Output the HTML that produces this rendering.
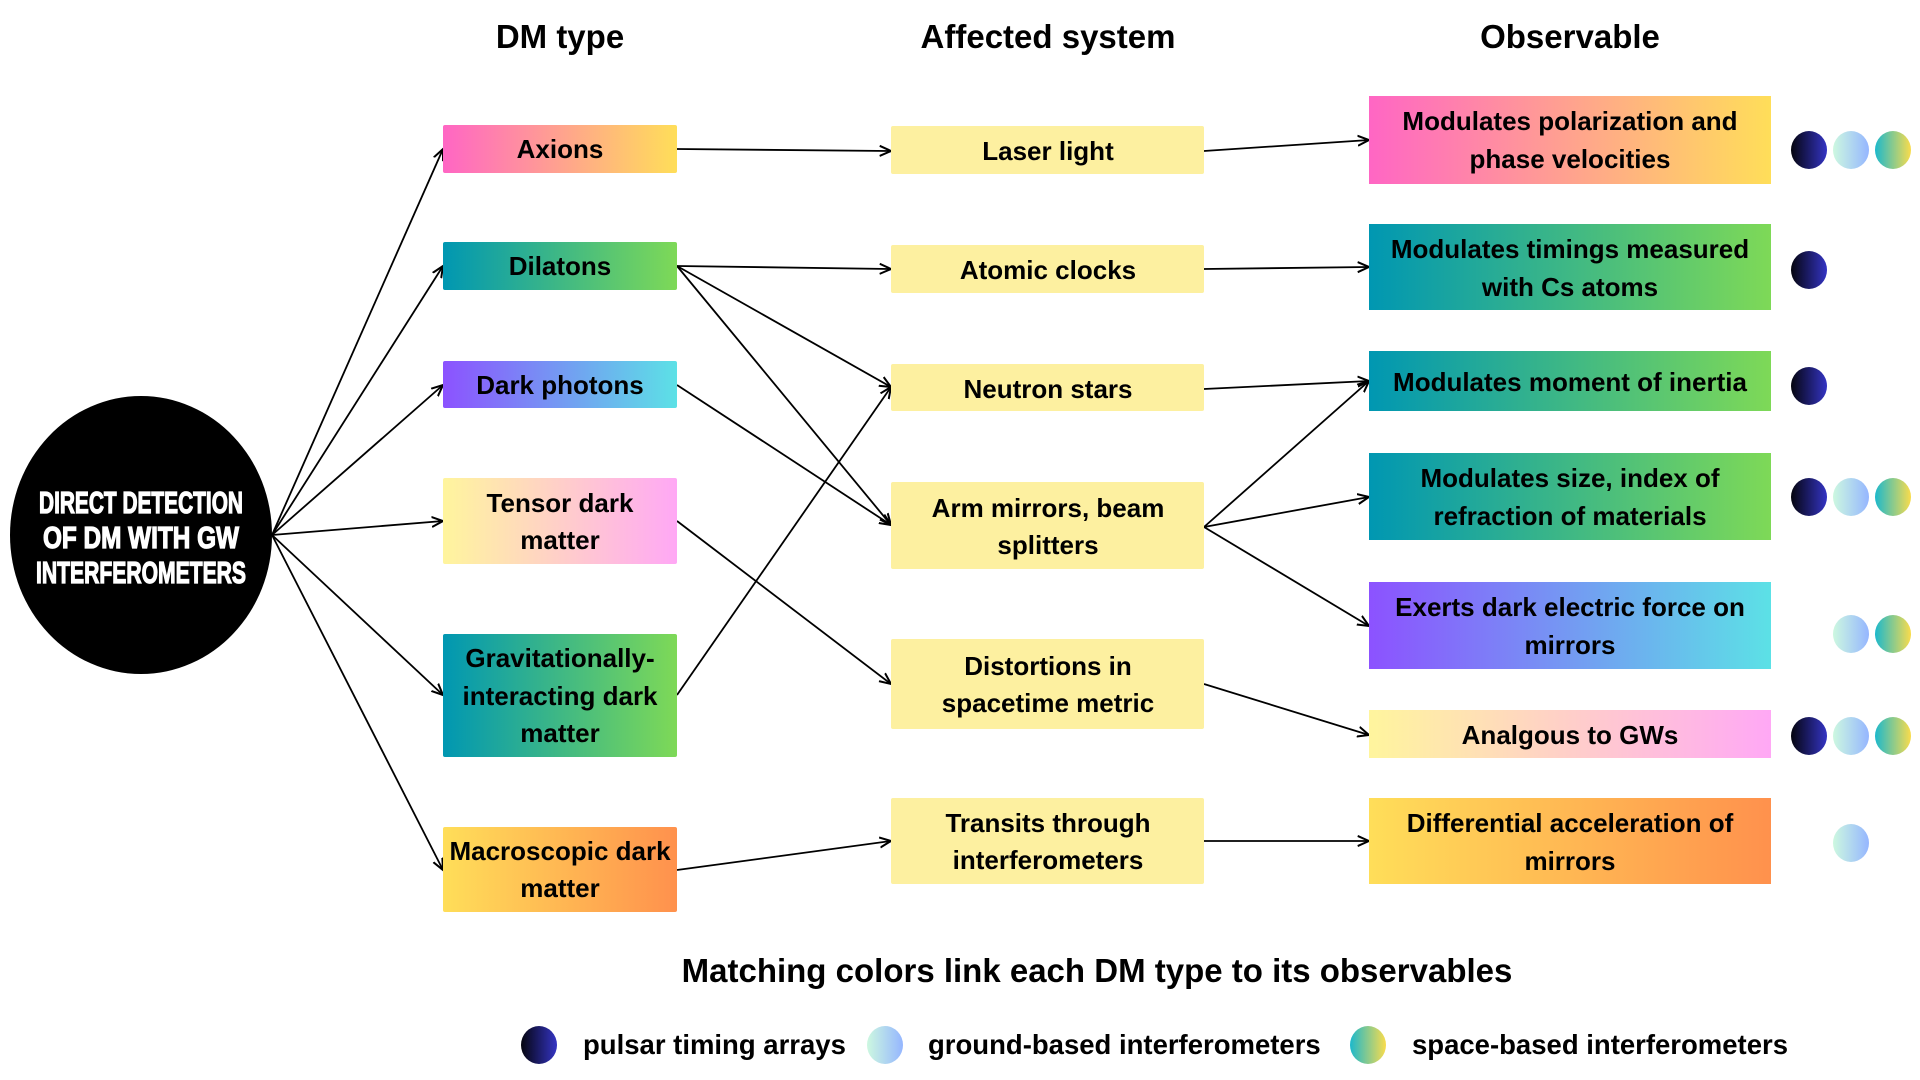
<!DOCTYPE html>
<html><head><meta charset="utf-8"><style>
html,body{margin:0;padding:0;background:#fff;}
svg{display:block;font-family:"Liberation Sans",sans-serif;}
.t{font-weight:bold;font-size:26px;fill:#000;text-anchor:middle;}
.h{font-weight:bold;font-size:33px;fill:#000;text-anchor:middle;}
.l{font-weight:bold;font-size:27.5px;fill:#000;}
</style></head><body>
<svg width="1920" height="1080" viewBox="0 0 1920 1080">
<defs>
<linearGradient id="ax"><stop offset="0" stop-color="#ff66c4"/><stop offset="1" stop-color="#ffde59"/></linearGradient>
<linearGradient id="di"><stop offset="0" stop-color="#0097b2"/><stop offset="1" stop-color="#7ed957"/></linearGradient>
<linearGradient id="dp"><stop offset="0" stop-color="#8c52ff"/><stop offset="1" stop-color="#5ce1e6"/></linearGradient>
<linearGradient id="te"><stop offset="0" stop-color="#fff59d"/><stop offset="1" stop-color="#ffa8f5"/></linearGradient>
<linearGradient id="ma"><stop offset="0" stop-color="#ffde59"/><stop offset="1" stop-color="#ff914d"/></linearGradient>
<linearGradient id="dk"><stop offset="0" stop-color="#05050f"/><stop offset="1" stop-color="#3434c4"/></linearGradient>
<linearGradient id="lt"><stop offset="0" stop-color="#cdf8e0"/><stop offset="1" stop-color="#95b6ff"/></linearGradient>
<linearGradient id="gr"><stop offset="0" stop-color="#1cb8cc"/><stop offset="1" stop-color="#fadc4c"/></linearGradient>
<marker id="ar" viewBox="0 0 10 10" refX="9" refY="5" markerWidth="7" markerHeight="7" orient="auto"><path d="M0,1 L9,5 L0,9" fill="none" stroke="#000" stroke-width="1.6"/></marker>
</defs>

<text class="h" x="560" y="48">DM type</text>
<text class="h" x="1048" y="48">Affected system</text>
<text class="h" x="1570" y="48">Observable</text>

<ellipse cx="141" cy="535" rx="131" ry="139" fill="#000"/>
<g fill="#fff" stroke="#fff" stroke-width="1.3" font-weight="bold" font-size="31" text-anchor="middle">
<text x="141" y="513" textLength="204" lengthAdjust="spacingAndGlyphs">DIRECT DETECTION</text>
<text x="141" y="548" textLength="196" lengthAdjust="spacingAndGlyphs">OF DM WITH GW</text>
<text x="141" y="583" textLength="210" lengthAdjust="spacingAndGlyphs">INTERFEROMETERS</text>
</g>

<g stroke="#000" stroke-width="1.8" fill="none" marker-end="url(#ar)">
<line x1="272" y1="535" x2="443" y2="149"/>
<line x1="272" y1="535" x2="443" y2="266"/>
<line x1="272" y1="535" x2="443" y2="385"/>
<line x1="272" y1="535" x2="443" y2="521"/>
<line x1="272" y1="535" x2="443" y2="695"/>
<line x1="272" y1="535" x2="443" y2="870"/>
<line x1="677" y1="149" x2="891" y2="151"/>
<line x1="677" y1="266" x2="891" y2="269"/>
<line x1="677" y1="266" x2="891" y2="387"/>
<line x1="677" y1="266" x2="891" y2="525"/>
<line x1="677" y1="385" x2="891" y2="525"/>
<line x1="677" y1="521" x2="891" y2="684"/>
<line x1="677" y1="695" x2="891" y2="387"/>
<line x1="677" y1="870" x2="891" y2="841"/>
<line x1="1204" y1="151" x2="1369" y2="140"/>
<line x1="1204" y1="269" x2="1369" y2="267"/>
<line x1="1204" y1="389" x2="1369" y2="381"/>
<line x1="1204" y1="527" x2="1369" y2="381"/>
<line x1="1204" y1="527" x2="1369" y2="497"/>
<line x1="1204" y1="527" x2="1369" y2="626"/>
<line x1="1204" y1="684" x2="1369" y2="735"/>
<line x1="1204" y1="841" x2="1369" y2="841"/>
</g>

<rect x="443" y="125" width="234" height="48" rx="2" fill="url(#ax)"/>
<text class="t" x="560" y="158">Axions</text>
<rect x="443" y="242" width="234" height="48" rx="2" fill="url(#di)"/>
<text class="t" x="560" y="275">Dilatons</text>
<rect x="443" y="361" width="234" height="47" rx="2" fill="url(#dp)"/>
<text class="t" x="560" y="394">Dark photons</text>
<rect x="443" y="478" width="234" height="86" rx="2" fill="url(#te)"/>
<text class="t" x="560" y="512">Tensor dark</text><text class="t" x="560" y="549">matter</text>
<rect x="443" y="634" width="234" height="123" rx="2" fill="url(#di)"/>
<text class="t" x="560" y="667">Gravitationally-</text><text class="t" x="560" y="705">interacting dark</text><text class="t" x="560" y="742">matter</text>
<rect x="443" y="827" width="234" height="85" rx="2" fill="url(#ma)"/>
<text class="t" x="560" y="860">Macroscopic dark</text><text class="t" x="560" y="897">matter</text>

<g fill="#fdf0a0">
<rect x="891" y="126" width="313" height="48" rx="2"/>
<rect x="891" y="245" width="313" height="48" rx="2"/>
<rect x="891" y="364" width="313" height="47" rx="2"/>
<rect x="891" y="482" width="313" height="87" rx="2"/>
<rect x="891" y="639" width="313" height="90" rx="2"/>
<rect x="891" y="798" width="313" height="86" rx="2"/>
</g>
<text class="t" x="1048" y="160">Laser light</text>
<text class="t" x="1048" y="279">Atomic clocks</text>
<text class="t" x="1048" y="398">Neutron stars</text>
<text class="t" x="1048" y="517">Arm mirrors, beam</text><text class="t" x="1048" y="554">splitters</text>
<text class="t" x="1048" y="675">Distortions in</text><text class="t" x="1048" y="712">spacetime metric</text>
<text class="t" x="1048" y="832">Transits through</text><text class="t" x="1048" y="869">interferometers</text>

<rect x="1369" y="96" width="402" height="88" fill="url(#ax)"/>
<text class="t" x="1570" y="130">Modulates polarization and</text><text class="t" x="1570" y="168">phase velocities</text>
<rect x="1369" y="224" width="402" height="86" fill="url(#di)"/>
<text class="t" x="1570" y="258">Modulates timings measured</text><text class="t" x="1570" y="296">with Cs atoms</text>
<rect x="1369" y="351" width="402" height="60" fill="url(#di)"/>
<text class="t" x="1570" y="391">Modulates moment of inertia</text>
<rect x="1369" y="453" width="402" height="87" fill="url(#di)"/>
<text class="t" x="1570" y="487">Modulates size, index of</text><text class="t" x="1570" y="525">refraction of materials</text>
<rect x="1369" y="582" width="402" height="87" fill="url(#dp)"/>
<text class="t" x="1570" y="616">Exerts dark electric force on</text><text class="t" x="1570" y="654">mirrors</text>
<rect x="1369" y="710" width="402" height="48" fill="url(#te)"/>
<text class="t" x="1570" y="744">Analgous to GWs</text>
<rect x="1369" y="798" width="402" height="86" fill="url(#ma)"/>
<text class="t" x="1570" y="832">Differential acceleration of</text><text class="t" x="1570" y="870">mirrors</text>

<g>
<ellipse cx="1809" cy="150" rx="18" ry="19" fill="url(#dk)"/><ellipse cx="1851" cy="150" rx="18" ry="19" fill="url(#lt)"/><ellipse cx="1893" cy="150" rx="18" ry="19" fill="url(#gr)"/>
<ellipse cx="1809" cy="270" rx="18" ry="19" fill="url(#dk)"/>
<ellipse cx="1809" cy="386" rx="18" ry="19" fill="url(#dk)"/>
<ellipse cx="1809" cy="497" rx="18" ry="19" fill="url(#dk)"/><ellipse cx="1851" cy="497" rx="18" ry="19" fill="url(#lt)"/><ellipse cx="1893" cy="497" rx="18" ry="19" fill="url(#gr)"/>
<ellipse cx="1851" cy="634" rx="18" ry="19" fill="url(#lt)"/><ellipse cx="1893" cy="634" rx="18" ry="19" fill="url(#gr)"/>
<ellipse cx="1809" cy="736" rx="18" ry="19" fill="url(#dk)"/><ellipse cx="1851" cy="736" rx="18" ry="19" fill="url(#lt)"/><ellipse cx="1893" cy="736" rx="18" ry="19" fill="url(#gr)"/>
<ellipse cx="1851" cy="843" rx="18" ry="19" fill="url(#lt)"/>
</g>

<text class="h" x="1097" y="982" font-size="35">Matching colors link each DM type to its observables</text>

<ellipse cx="539" cy="1045" rx="18" ry="19" fill="url(#dk)"/>
<text class="l" x="583" y="1054">pulsar timing arrays</text>
<ellipse cx="885" cy="1045" rx="18" ry="19" fill="url(#lt)"/>
<text class="l" x="928" y="1054">ground-based interferometers</text>
<ellipse cx="1368" cy="1045" rx="18" ry="19" fill="url(#gr)"/>
<text class="l" x="1412" y="1054">space-based interferometers</text>
</svg>
</body></html>
